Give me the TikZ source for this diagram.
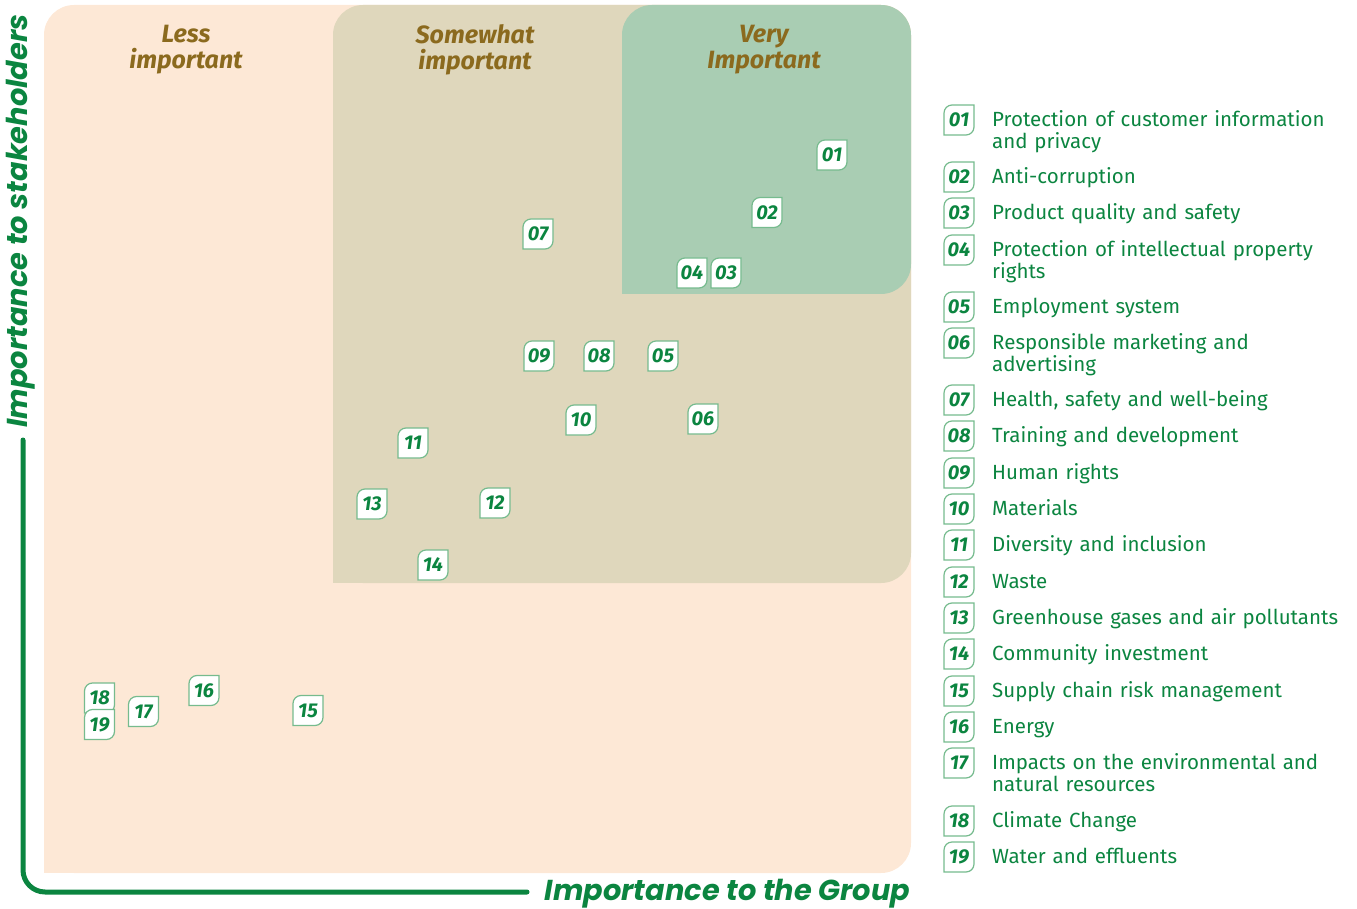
\documentclass[tikz,border=0pt]{standalone}
\usepackage{fontspec}
\setmainfont{Fira Sans}
\newfontfamily\axisfont{Poppins}
\usepackage{xcolor}
\usepackage{tikz}
\usetikzlibrary{positioning, arrows.meta}
\definecolor{peach}{HTML}{FDE8D6}
\definecolor{sand}{HTML}{DFD7BC}
\definecolor{mint}{HTML}{A9CDB3}
\definecolor{headbrown}{HTML}{8B6A1E}
\definecolor{grn}{HTML}{0B8540}
\definecolor{leafedge}{HTML}{76BB8E}

\tikzset{
  head/.style={text=headbrown, font=\fontsize{25}{26}\selectfont\bfseries\itshape, align=center, inner sep=0pt},
  badge/.style={text=grn, font=\fontsize{20}{20}\selectfont\bfseries\itshape, inner sep=0pt},
  leaf/.style={fill=white, draw=leafedge, line width=1.2pt},
  item/.style={text=grn, font=\fontsize{20.5}{22}\selectfont, text width=380pt, align=left, anchor=base west, inner sep=0pt},
  axis/.style={grn, line width=5pt, line cap=round, rounded corners=22pt},
  axislabel/.style={text=grn, font=\axisfont\fontsize{28.8}{30}\selectfont\bfseries\itshape, inner sep=0pt}
}

% leaf shaped number tag
\newcommand{\leafbadge}[3]{%
  \coordinate (#1) at (#2);
  \filldraw[leaf] ([shift={(15pt,15pt)}]#1) -- ([shift={(15pt,-7pt)}]#1) arc[start angle=0, end angle=-90, radius=8pt] -- ([shift={(-15pt,-15pt)}]#1) -- ([shift={(-15pt,7pt)}]#1) arc[start angle=180, end angle=90, radius=8pt] -- cycle;
  \node[badge] (#1) at (#2) {#3};}

\begin{document}
\begin{tikzpicture}[x=1pt, y=-1pt]
  \useasboundingbox (0,0) rectangle (1357,909);

  % the three zones
  \fill[peach, rounded corners=30pt] (44,5) rectangle (911,873);
  \fill[peach] (44,843) rectangle (74,873);
  \fill[sand, rounded corners=30pt] (333,5) rectangle (911,583);
  \fill[sand] (333,553) rectangle (363,583);
  \fill[mint, rounded corners=30pt] (622,5) rectangle (911,294);
  \fill[mint] (622,264) rectangle (652,294);

  \node[head] at (186,50) (less) {Less\\important};
  \node[head] at (475,50) (some) {Somewhat\\important};
  \node[head] at (764,50) (very) {Very\\Important};

  % axes
  \coordinate (ytop) at (23,440);
  \coordinate (xend) at (527,892);
  \draw[axis] (ytop) |- (xend);
  \node[axislabel, rotate=90] at (21,221) (ylab) {Importance to stakeholders};
  \node[axislabel] at (727.5,894) (xlab) {Importance to the Group};

  % topics in the matrix
  \foreach \n/\p in {01/{832,155}, 02/{767,212.5}, 03/{726,273}, 04/{692,273},
      05/{663,356}, 06/{703,419}, 07/{538,234}, 08/{599,356}, 09/{539,356},
      10/{581,420}, 11/{413,443}, 12/{495,503}, 13/{372,504}, 14/{433,565},
      15/{308,710.5}, 16/{204,690.5}, 17/{143.5,711.5}, 18/{99.5,698}, 19/{99.5,724.5}}
    \leafbadge{i\n}{\p}{\n};

  % legend
  \foreach \n/\y/\t in {01/120/{Protection of customer information\\and privacy},
      02/177/{Anti-corruption}, 03/213/{Product quality and safety},
      04/250/{Protection of intellectual property\\rights}, 05/307/{Employment system},
      06/343/{Responsible marketing and\\advertising}, 07/400/{Health, safety and well-being},
      08/436/{Training and development}, 09/473/{Human rights}, 10/509/{Materials},
      11/545/{Diversity and inclusion}, 12/582/{Waste},
      13/618/{Greenhouse gases and air pollutants}, 14/654/{Community investment},
      15/691/{Supply chain risk management}, 16/727/{Energy},
      17/763/{Impacts on the environmental and\\natural resources},
      18/821/{Climate Change}, 19/857/{Water and effluents}}
  {
    \leafbadge{k\n}{959,\y}{\n}
    \node[item] at (992,\y+6.7) (t\n) {\t};
  }
\end{tikzpicture}
\end{document}
